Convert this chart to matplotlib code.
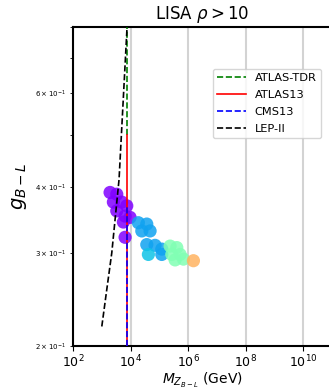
import matplotlib
matplotlib.use('Agg')
import matplotlib.pyplot as plt

# LISA points (M in GeV, g_BL, colour value)
M_pts = [1936, 3311, 2523, 4943, 3311, 7380, 6440, 9610, 5620, 6440,
         18660, 36560, 24550, 47640, 36560, 71100, 121600, 41600, 121600,
         236600, 404600, 271000, 527000, 353000, 687000,
         1.53e6]
g_pts = [0.390, 0.387, 0.374, 0.374, 0.360, 0.368, 0.352, 0.350, 0.343, 0.321,
         0.342, 0.340, 0.330, 0.330, 0.311, 0.310, 0.305, 0.298, 0.298,
         0.309, 0.307, 0.298, 0.298, 0.291, 0.292,
         0.290]
c_pts = [0.0] * 10 + [0.22] * 7 + [0.28, 0.22] + [0.5] * 6 + [0.75]

# collider bounds
M_bound = 7260
g_tdr = [0.5, 1.0]
g_atlas13 = [0.2, 0.5]
g_cms13 = [0.2, 0.37]

# LEP-II curve
M_lep = [1000, 1490, 2220, 3980, 7550, 9500]
g_lep = [0.218, 0.256, 0.30, 0.413, 0.8, 1.0]

fig = plt.figure(figsize=(3.29, 3.9), dpi=100)
ax = fig.add_axes([0.222, 0.112, 0.787, 0.819])

ax.scatter(M_pts, g_pts, c=c_pts, cmap='rainbow', vmin=0, vmax=1,
           s=90, alpha=0.85, edgecolors='none', zorder=2)

ax.plot([M_bound, M_bound], g_tdr, '--', color='green', lw=1.2, label='ATLAS-TDR', zorder=3)
ax.plot([M_bound, M_bound], g_atlas13, '-', color='red', lw=1.2, label='ATLAS13', zorder=3)
ax.plot([M_bound, M_bound], g_cms13, '--', color='blue', lw=1.2, label='CMS13', zorder=3)
ax.plot(M_lep, g_lep, '--', color='black', lw=1.2, label='LEP-II', zorder=3)

ax.set_xscale('log')
ax.set_yscale('log')
ax.set_xlim(1e2, 1e11)
ax.set_ylim(0.2, 0.8)
ax.grid(True, which='major', axis='x', color='lightgray', lw=1.5)
ax.set_axisbelow(True)

ax.tick_params(axis='x', labelsize=9, pad=2)
ax.tick_params(axis='y', which='minor', labelsize=5)
for s in ax.spines.values():
    s.set_linewidth(1.5)

ax.set_title(r'LISA $\rho > 10$', fontsize=12)
ax.set_xlabel(r'$M_{Z_{B-L}}$ (GeV)', fontsize=10, labelpad=0)
ax.set_ylabel(r'$g_{B-L}$', fontsize=14)

ax.legend(loc='upper left', bbox_to_anchor=(207 / 329, 1 - 63 / 390),
          bbox_transform=fig.transFigure, fontsize=8.2, handlelength=2.5,
          labelspacing=0.6)

fig.savefig('out.png', dpi=100)
